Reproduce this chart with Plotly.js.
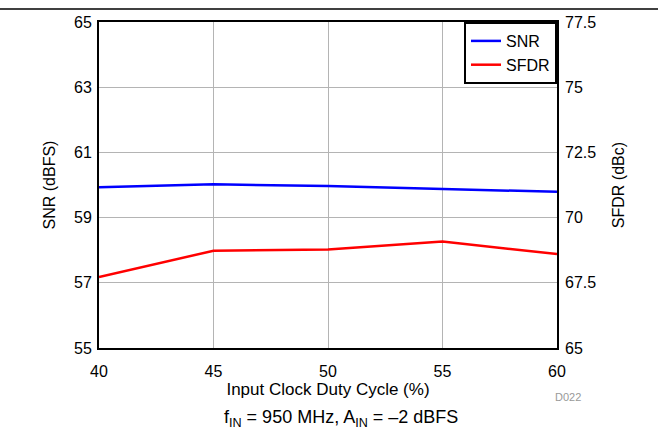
<!DOCTYPE html>
<html><head><meta charset="utf-8">
<script src="https://cdn.plot.ly/plotly-3.0.1.min.js"></script>
<style>html,body{margin:0;padding:0;background:#fff}#chart{width:658px;height:433px}</style>
</head><body><div id="chart"></div>
<script>
const dutyCycle = [40, 45, 50, 55, 60];
const snr = [59.93, 60.02, 59.97, 59.88, 59.79];
const sfdr = [67.72, 68.73, 68.78, 69.08, 68.60];

const W = 658, H = 433, L = 99, R = 101, T = 22, B = 85;
const pw = W - L - R, ph = H - T - B;
const px = x => (x - L) / pw;
const py = y => (H - B - y) / ph;
const font = 'Liberation Sans, Arial, sans-serif';

const traces = [
  {x: dutyCycle, y: snr, name: 'SNR', mode: 'lines', line: {color: '#0000ff', width: 2.5}, yaxis: 'y'},
  {x: dutyCycle, y: sfdr, name: 'SFDR', mode: 'lines', line: {color: '#ff0000', width: 2.5}, yaxis: 'y2'}
];

const layout = {
  width: W, height: H,
  margin: {l: L, r: R, t: T, b: B},
  paper_bgcolor: '#fff', plot_bgcolor: '#fff',
  font: {family: font, color: '#000', size: 16},
  showlegend: true,
  legend: {x: 1, xanchor: 'right', y: 1, yanchor: 'top', bgcolor: '#fff', bordercolor: '#000', borderwidth: 2,
           font: {size: 16}, tracegroupgap: 0},
  xaxis: {range: [40, 60], tick0: 40, dtick: 5, showgrid: true, gridcolor: '#b4b4b4', gridwidth: 1,
          showline: true, linecolor: '#000', linewidth: 2, mirror: true, zeroline: false,
          ticks: '', ticklabelstandoff: 8, tickfont: {size: 16},
          title: {text: 'Input Clock Duty Cycle (%)', font: {size: 17}, standoff: 2}},
  yaxis: {range: [55, 65], tick0: 55, dtick: 2, showgrid: true, gridcolor: '#b4b4b4', gridwidth: 1,
          showline: true, linecolor: '#000', linewidth: 2, mirror: true, zeroline: false,
          ticks: '', ticklabelstandoff: 2, tickfont: {size: 16},
          title: {text: 'SNR (dBFS)', font: {size: 16}, standoff: 14}},
  yaxis2: {range: [65, 77.5], tick0: 65, dtick: 2.5, overlaying: 'y', side: 'right', showgrid: false,
           showline: false, zeroline: false, ticks: '', ticklabelstandoff: 7, tickfont: {size: 16},
           title: {text: 'SFDR (dBc)', font: {size: 16}, standoff: 17}},
  shapes: [
    {type: 'line', xref: 'paper', yref: 'paper', x0: px(0), x1: px(W), y0: py(9), y1: py(9),
     line: {color: '#000', width: 1.5}}
  ],
  annotations: [
    {xref: 'paper', yref: 'paper', x: px(341), y: py(418), xanchor: 'center', yanchor: 'middle', showarrow: false,
     text: 'f<sub>IN</sub> = 950 MHz, A<sub>IN</sub> = \u20132 dBFS', font: {size: 18}},
    {xref: 'paper', yref: 'paper', x: px(568), y: py(397), xanchor: 'center', yanchor: 'middle', showarrow: false,
     text: 'D022', font: {size: 11, color: '#999'}}
  ]
};

Plotly.newPlot('chart', traces, layout, {displayModeBar: false, staticPlot: true});
</script></body></html>
